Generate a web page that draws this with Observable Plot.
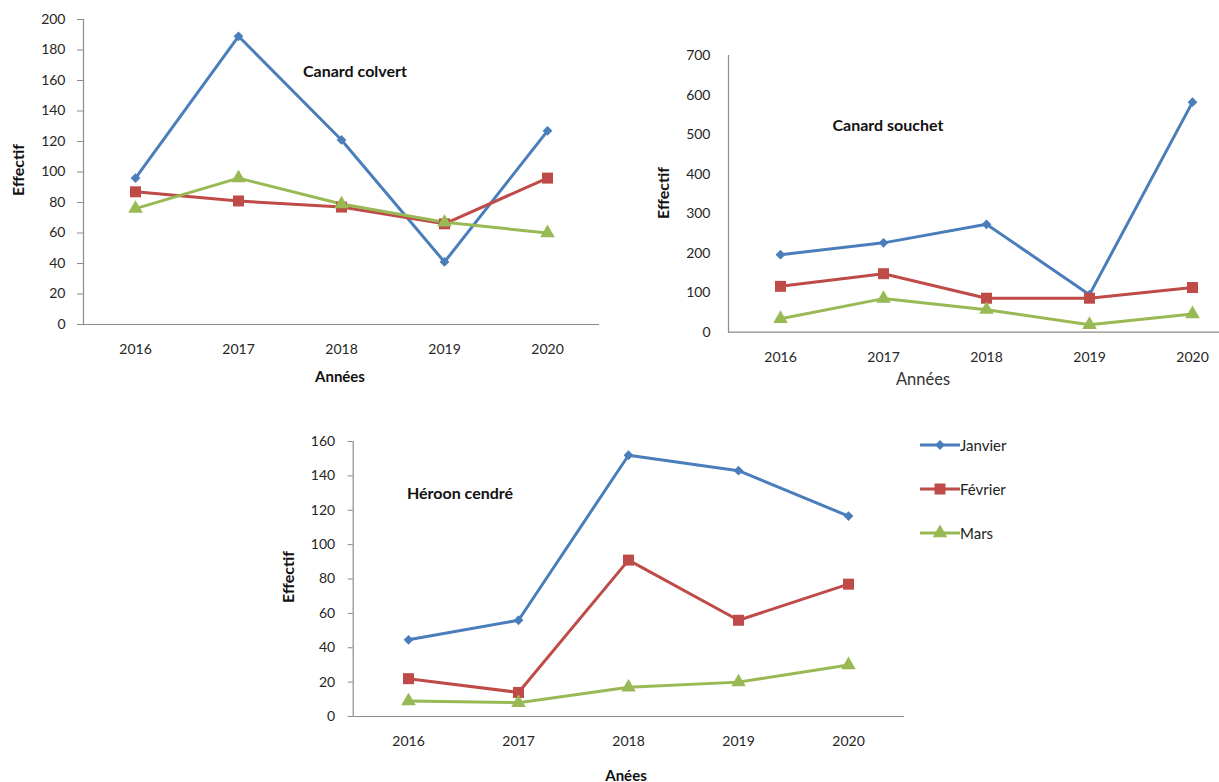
<!DOCTYPE html>
<html>
<head>
<meta charset="utf-8">
<script src="https://cdn.jsdelivr.net/npm/d3@7"></script>
<script src="https://cdn.jsdelivr.net/npm/@observablehq/plot@0.6"></script>
<style>
  html, body { margin: 0; padding: 0; background: #fff; overflow: hidden; width: 1219px; height: 782px; }
  body { position: relative; font-family: Lato, "Open Sans", sans-serif; color: #222; }
  .abs { position: absolute; }
  .abs svg { max-width: none !important; }
  .lbl { position: absolute; transform: translate(-50%, -50%); white-space: nowrap; }
  .bold { font-weight: bold; font-size: 15px; color: #111; }
  .title { font-size: 16px; }
  .rot { transform: translate(-50%, -50%) rotate(-90deg); font-size: 16px; }
  .leg { position: absolute; display: flex; align-items: center; font-size: 15px; color: #222; }
</style>
</head>
<body>
<script>
// ---------- data ----------
const years = ["2016", "2017", "2018", "2019", "2020"];
const months = ["Janvier", "Février", "Mars"];
const monthColors = ["#4A7EBB", "#BE4B48", "#98B954"];
const monthSymbols = ["diamond2", "square", "triangle"];
const monthRadius = [4.4, 6.2, 5.4];

// Canard colvert
const colvertJanvier = [96, 189, 121, 41, 127];
const colvertFevrier = [87, 81, 77, 66, 96];
const colvertMars    = [76, 96, 79, 67, 60];
const colvertTicks   = [0, 20, 40, 60, 80, 100, 120, 140, 160, 180, 200];

// Canard souchet
const souchetJanvier = [196, 226, 273, 95, 582];
const souchetFevrier = [116, 148, 86, 86, 113];
const souchetMars    = [34, 85, 57, 19, 46];
const souchetTicks   = [0, 100, 200, 300, 400, 500, 600, 700];

// Héroon cendré
const heroonJanvier = [44.6, 56, 152, 143, 116.6];
const heroonFevrier = [22, 14, 91, 56, 77];
const heroonMars    = [9, 8, 17, 20, 30];
const heroonTicks   = [0, 20, 40, 60, 80, 100, 120, 140, 160];

function table(jan, fev, mars) {
  const rows = [];
  [jan, fev, mars].forEach((vals, k) => {
    vals.forEach((v, i) => rows.push({ year: years[i], month: months[k], value: v }));
  });
  return rows;
}

function chart({ rows, ticks, width, height, mL, mR, mT, mB, ySize, yPad }) {
  const marks = [
    Plot.ruleY([0], { stroke: "#8c8c8c", strokeWidth: 1.2 }),
    Plot.frame({ anchor: "left", stroke: "#8c8c8c", strokeWidth: 1.2 }),
    Plot.axisY({ ticks, tickSize: ySize, tickPadding: yPad, stroke: "#8c8c8c", fill: "#262626", fontSize: 14, tickFormat: d => String(d) }),
    Plot.axisX({ tickSize: 0, tickPadding: 20, fill: "#262626", fontSize: 14 }),
    Plot.line(rows, { x: "year", y: "value", z: "month", stroke: "month", strokeWidth: 3, strokeLinejoin: "round" })
  ];
  months.forEach((m, k) => {
    marks.push(Plot.dot(rows.filter(d => d.month === m), {
      x: "year", y: "value", fill: "month", symbol: "month", r: monthRadius[k], stroke: "none"
    }));
  });
  return Plot.plot({
    width, height,
    marginLeft: mL, marginRight: mR, marginTop: mT, marginBottom: mB,
    style: { fontFamily: "Lato, 'Open Sans', sans-serif", background: "transparent", overflow: "visible", maxWidth: "none" },
    x: { type: "point", domain: years, padding: 0.5, label: null },
    y: { domain: [0, ticks[ticks.length - 1]], label: null },
    color: { domain: months, range: monthColors },
    symbol: { domain: months, range: monthSymbols },
    marks
  });
}

function place(el, left, top) {
  const w = document.createElement("div");
  w.className = "abs";
  w.style.left = left + "px";
  w.style.top = top + "px";
  w.style.width = el.getAttribute("width") + "px";
  w.appendChild(el);
  document.body.appendChild(w);
}

function label(text, x, y, cls, extraStyle) {
  const d = document.createElement("div");
  d.className = "lbl " + (cls || "");
  d.textContent = text;
  d.style.left = x + "px";
  d.style.top = y + "px";
  if (extraStyle) Object.assign(d.style, extraStyle);
  document.body.appendChild(d);
}

// Chart 1: Canard colvert
place(chart({ rows: table(colvertJanvier, colvertFevrier, colvertMars), ticks: colvertTicks,
  width: 602, height: 390, mL: 83, mR: 3, mT: 19, mB: 66, ySize: 6, yPad: 12 }), 0, 0);

// Chart 2: Canard souchet
place(chart({ rows: table(souchetJanvier, souchetFevrier, souchetMars), ticks: souchetTicks,
  width: 604, height: 390, mL: 88, mR: 0.4, mT: 55, mB: 58.3, ySize: 0, yPad: 18 }), 640, 0);

// Chart 3: Héroon cendré
place(chart({ rows: table(heroonJanvier, heroonFevrier, heroonMars), ticks: heroonTicks,
  width: 640, height: 382, mL: 82.7, mR: 6, mT: 41, mB: 66, ySize: 5, yPad: 13 }), 270, 400);

// Titles and axis labels
label("Canard colvert", 355, 70, "bold title");
label("Canard souchet", 888, 124, "bold title");
label("Héroon cendré", 460, 492, "bold title");

label("Effectif", 17, 170, "bold rot");
label("Effectif", 662, 193, "bold rot");
label("Effectif", 287, 577, "bold rot");

label("Années", 340, 376, "bold");
label("Années", 923, 379, "", { fontSize: "16.5px", color: "#333" });
label("Anées", 626, 775, "bold");

// Legend
const legY = [445, 489, 533];
const legTypes = [d3.symbolDiamond2, d3.symbolSquare, d3.symbolTriangle];
months.forEach((m, k) => {
  const item = document.createElement("div");
  item.className = "leg";
  item.style.left = "918px";
  item.style.top = (legY[k] - 10) + "px";
  item.style.height = "20px";
  const sym = d3.symbol().type(legTypes[k]).size(Math.PI * monthRadius[k] * monthRadius[k])();
  item.innerHTML =
    `<svg width="42" height="20" style="display:block">
       <line x1="2" x2="42" y1="10" y2="10" stroke="${monthColors[k]}" stroke-width="3"/>
       <path d="${sym}" transform="translate(22,10)" fill="${monthColors[k]}"/>
     </svg><span>${m}</span>`;
  document.body.appendChild(item);
});
</script>
</body>
</html>
